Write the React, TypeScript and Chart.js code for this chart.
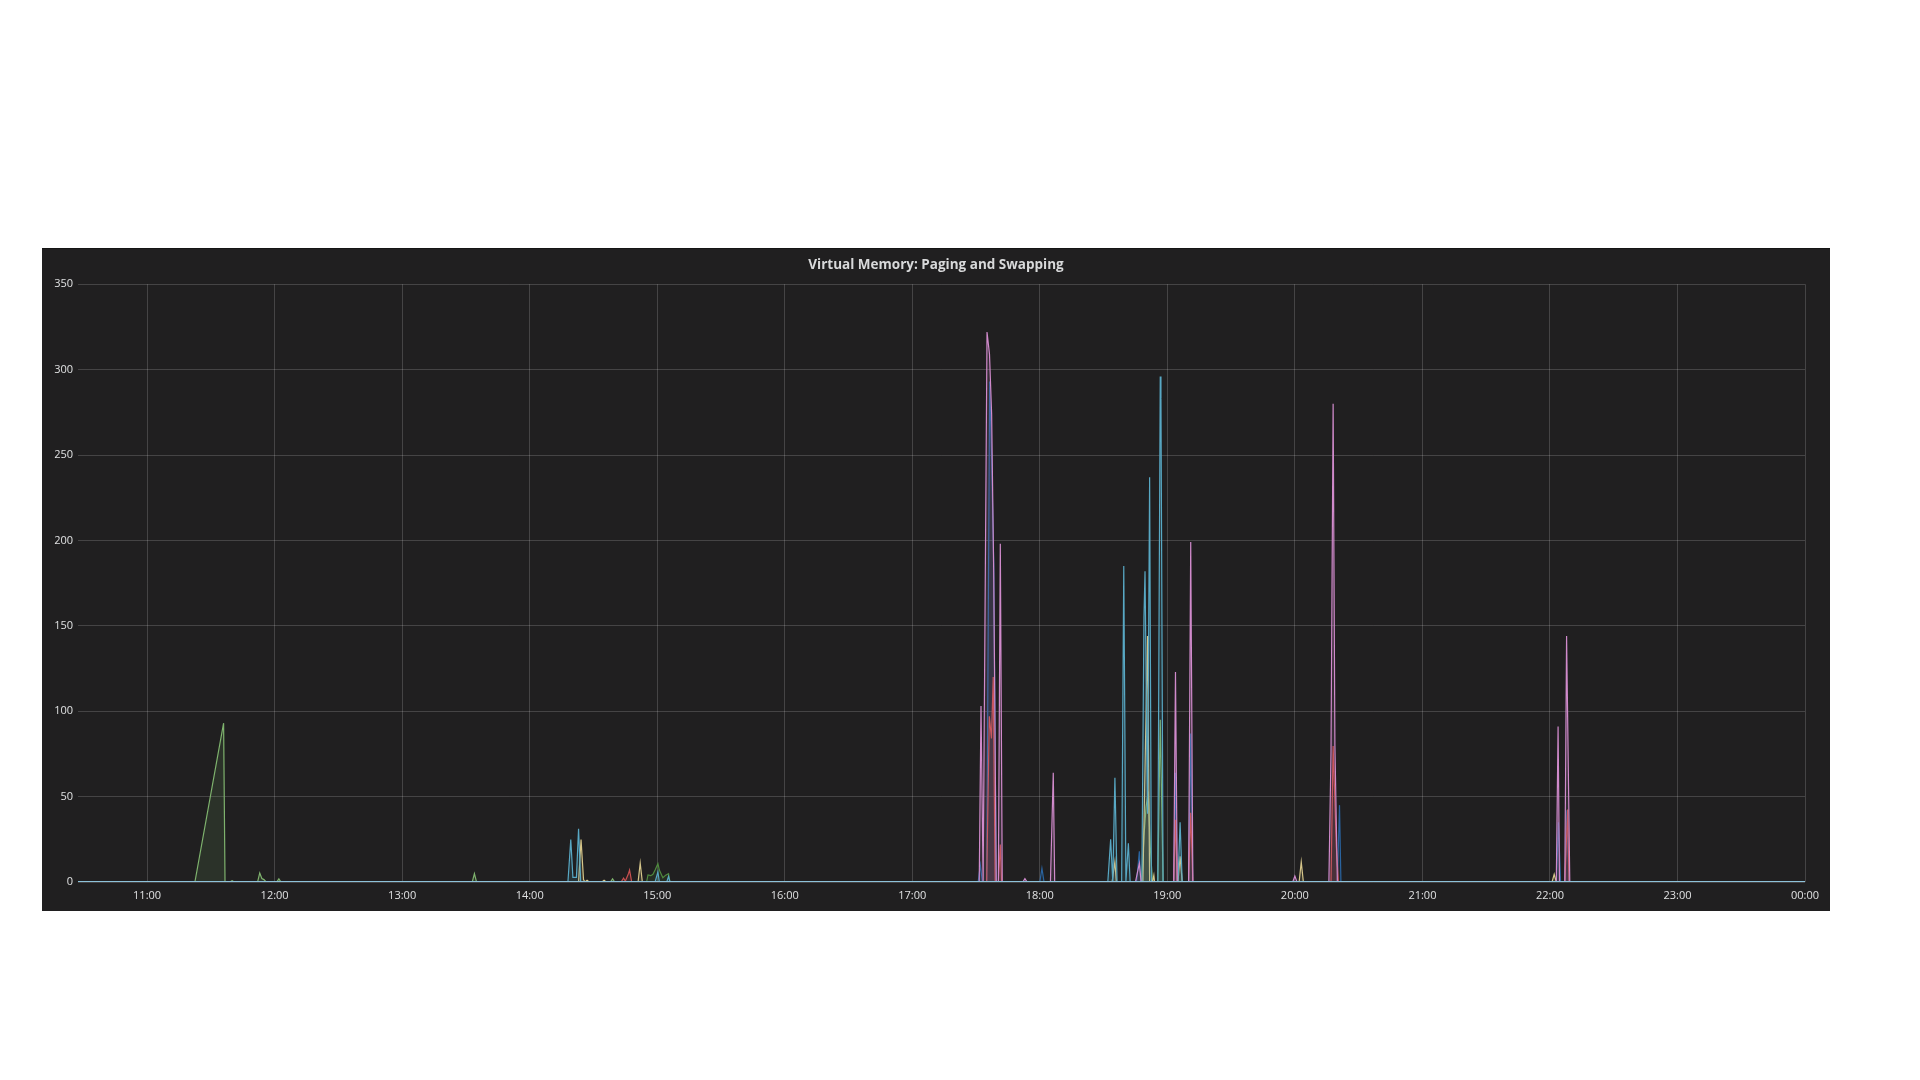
import React, { useEffect, useRef } from "react";
import { Chart, registerables } from "chart.js";

Chart.register(...registerables);

// ---- data (time "HH:MM[:SS]", value) ----
const TITLE = "Virtual Memory: Paging and Swapping";
const X_START = "10:27:30";
const X_END = "24:00";
const xTickLabels = ["11:00", "12:00", "13:00", "14:00", "15:00", "16:00", "17:00", "18:00", "19:00", "20:00", "21:00", "22:00", "23:00", "00:00"];
const yTickValues = [0, 50, 100, 150, 200, 250, 300, 350];

const swapBaseline: [string, number][] = [[X_START, 0], [X_END, 0]];

const pinkSeries: [string, number][] = [
  [X_START, 0], ["17:31:30", 0], ["17:32:20", 103], ["17:33:20", 0], ["17:35:10", 322], ["17:36:20", 309],
  ["17:37:20", 274], ["17:38:20", 179], ["17:39:30", 0], ["17:40:30", 0], ["17:41:25", 198], ["17:42:20", 0],
  ["17:52", 0], ["17:53", 2], ["17:54", 0], ["18:05", 0], ["18:06:20", 64], ["18:07", 0],
  ["18:45", 0], ["18:46:50", 11], ["18:47:40", 0], ["19:03", 0], ["19:03:50", 123], ["19:04:40", 0],
  ["19:10", 0], ["19:11", 199], ["19:12", 0], ["19:59", 0], ["20:00", 3.5], ["20:01", 0],
  ["20:16", 0], ["20:17", 76], ["20:18", 280], ["20:18:50", 80], ["20:20", 0],
  ["22:03", 0], ["22:03:50", 91], ["22:04:30", 0], ["22:07", 0], ["22:07:50", 144], ["22:09:20", 0], [X_END, 0],
];

const tealSeries: [string, number][] = [
  [X_START, 0], ["14:18", 0], ["14:19:20", 24.8], ["14:20:20", 2.7], ["14:22", 2.7], ["14:23", 31.2], ["14:24", 0],
  ["14:59", 0], ["15:00:20", 5.9], ["15:01", 0], ["15:04:30", 0], ["15:05:20", 3.3], ["15:06", 0],
  ["18:32", 0], ["18:33:20", 25], ["18:34:20", 0], ["18:35:20", 61], ["18:36:20", 0],
  ["18:38:30", 0], ["18:39:30", 185], ["18:40:30", 0], ["18:41:40", 22.7], ["18:42:30", 0],
  ["18:48", 0], ["18:49", 155], ["18:49:30", 182], ["18:50:40", 40], ["18:51:40", 237], ["18:52:30", 0],
  ["18:55:30", 0], ["18:56:40", 296], ["18:57", 283], ["18:58", 0],
  ["19:05", 0], ["19:06", 35], ["19:07", 0], [X_END, 0],
];

const yellowSeries: [string, number][] = [
  [X_START, 0], ["14:23", 0], ["14:24:10", 24.8], ["14:25:20", 1.4], ["14:26", 0], ["14:27", 1], ["14:28", 0],
  ["14:34", 0], ["14:35", 1], ["14:36", 0], ["14:51", 0], ["14:52", 11.1], ["14:53", 0],
  ["18:34", 0], ["18:35:20", 12], ["18:36", 0], ["18:48:30", 0], ["18:50:40", 144], ["18:51:40", 0],
  ["18:53", 0], ["18:53:40", 4], ["18:54", 0], ["19:05", 0], ["19:06", 15], ["19:07", 0],
  ["20:02", 0], ["20:03", 11.7], ["20:04", 0], ["22:01", 0], ["22:02", 4.5], ["22:03", 0], [X_END, 0],
];

const greenSeries: [string, number][] = [
  [X_START, 0], ["11:22:30", 0], ["11:36", 93], ["11:36:40", 0], ["11:39", 0], ["11:40", 0.8], ["11:41", 0],
  ["11:52", 0], ["11:53", 5.3], ["11:54", 2], ["11:55", 1.4], ["11:56", 0], ["12:01", 0], ["12:02", 1.8], ["12:03", 0],
  ["13:33", 0], ["13:34", 4.9], ["13:35", 0], ["14:38", 0], ["14:39", 1.8], ["14:40", 0],
  ["18:48", 0], ["18:49", 27], ["18:50", 44], ["18:51", 53], ["18:52", 20], ["18:53", 0],
  ["18:55:30", 0], ["18:56:40", 95], ["18:58", 0], [X_END, 0],
];

const darkGreenSeries: [string, number][] = [
  [X_START, 0], ["14:55", 0], ["14:55:40", 4.1], ["14:57", 3.7], ["14:58", 4.5], ["14:59", 7], ["15:00:20", 10.7],
  ["15:01", 7], ["15:02:40", 2.5], ["15:04", 4], ["15:05:20", 4.9], ["15:06", 0], [X_END, 0],
];

const redSeries: [string, number][] = [
  [X_START, 0], ["14:43", 0], ["14:44:10", 2.3], ["14:45", 0.5], ["14:46:30", 5], ["14:47", 7], ["14:48", 0],
  ["17:35", 0], ["17:36:15", 97], ["17:37:15", 84], ["17:38:05", 120], ["17:39", 0], ["17:40:30", 0], ["17:41:25", 22], ["17:42", 0],
  ["19:03", 0], ["19:03:50", 36.5], ["19:04:40", 0], ["19:10", 0], ["19:11", 40.5], ["19:12", 0],
  ["20:17", 0], ["20:18", 79.6], ["20:19:30", 21], ["20:20:30", 0], ["22:07", 0], ["22:08:20", 42.5], ["22:09", 0], [X_END, 0],
];

const blueSeries: [string, number][] = [
  [X_START, 0], ["17:31", 0], ["17:32", 10], ["17:33", 0], ["17:35", 0], ["17:36:25", 293], ["17:37:20", 248],
  ["17:38:20", 186], ["17:39:30", 0], ["18:00", 0], ["18:01", 8], ["18:02", 0],
  ["18:45:30", 0], ["18:46:50", 18], ["18:47:30", 0], ["19:03", 0], ["19:03:50", 64], ["19:04:40", 0],
  ["19:10", 0], ["19:11", 87], ["19:12", 0], ["20:20", 0], ["20:21", 45], ["20:21:40", 0],
  ["22:03", 0], ["22:04", 35], ["22:05", 0], ["22:07", 0], ["22:08", 42], ["22:09", 0], [X_END, 0],
];

const seriesNames = ["swap", "pgmajfault", "pswpin", "pgpgout", "pgpgin", "pgfault", "pswpout", "pgsteal"];
const seriesColors = ["#8DC2DA", "#D08ACB", "#58A8C4", "#D6C68A", "#7EB26D", "#4F8A3E", "#C85050", "#2A64A0"];
const seriesData = [swapBaseline, pinkSeries, tealSeries, yellowSeries, greenSeries, darkGreenSeries, redSeries, blueSeries];

function toMin(s: string): number {
  const p = s.split(":").map(Number);
  return p[0] * 60 + p[1] + (p[2] || 0) / 60;
}

function hexA(hex: string, a: number): string {
  const n = parseInt(hex.slice(1), 16);
  return `rgba(${(n >> 16) & 255},${(n >> 8) & 255},${n & 255},${a})`;
}

const xTickValues: number[] = (() => {
  const out: number[] = [];
  let prev = -1;
  for (const l of xTickLabels) {
    let v = toMin(l);
    while (v <= prev) v += 1440;
    out.push(v);
    prev = v;
  }
  return out;
})();

const PANEL = { left: 42, top: 248, width: 1788, height: 663 };

export default function App() {
  const ref = useRef<HTMLCanvasElement | null>(null);

  useEffect(() => {
    if (!ref.current) return;
    const datasets = seriesData.map((s, i) => ({
      label: seriesNames[i],
      data: s.map(([t, v]) => ({ x: toMin(t), y: v })),
      borderColor: seriesColors[i],
      backgroundColor: hexA(seriesColors[i], i === 0 ? 0 : 0.13),
      borderWidth: i === 0 ? 2 : 1.2,
      fill: i === 0 ? false : "origin",
      pointRadius: 0,
      tension: 0,
      yAxisID: "y",
    }));
    const chart = new Chart(ref.current, {
      type: "line",
      data: { datasets },
      options: {
        animation: false,
        responsive: false,
        devicePixelRatio: 1,
        layout: { padding: { left: 12.5, right: 12.5, top: 0, bottom: 0 } },
        plugins: {
          legend: { display: false },
          tooltip: { enabled: false },
          title: {
            display: true,
            text: TITLE,
            color: "#d8d9da",
            font: { family: "'Open Sans'", size: 13.5, weight: "bold" },
            padding: { top: 8, bottom: 11 },
          },
        },
        scales: {
          x: {
            type: "linear",
            min: toMin(X_START),
            max: toMin(X_END),
            border: { display: false },
            grid: { color: "rgba(255,255,255,0.17)", drawTicks: false, lineWidth: 1 },
            ticks: {
              color: "#e0e1e2",
              font: { family: "'Open Sans'", size: 11 },
              padding: 7,
              maxRotation: 0,
              autoSkip: false,
              callback: (v: any) => {
                const idx = xTickValues.indexOf(Number(v));
                return idx >= 0 ? xTickLabels[idx] : "";
              },
            },
            afterBuildTicks: (axis: any) => {
              axis.ticks = xTickValues.map((v) => ({ value: v }));
            },
            afterFit: (axis: any) => {
              axis.height = 29;
            },
          },
          y: {
            min: 0,
            max: 350,
            border: { display: false },
            grid: { color: "rgba(255,255,255,0.17)", drawTicks: false, lineWidth: 1 },
            ticks: {
              color: "#e0e1e2",
              font: { family: "'Open Sans'", size: 11 },
              padding: 5,
            },
            afterBuildTicks: (axis: any) => {
              axis.ticks = yTickValues.map((v) => ({ value: v }));
            },
            afterFit: (axis: any) => {
              axis.width = 23.5;
            },
          },
          yRightSpacer: {
            position: "right",
            min: 0,
            max: 1,
            border: { display: false },
            grid: { display: false, drawTicks: false },
            ticks: { display: false },
            afterFit: (axis: any) => {
              axis.width = 12.5;
            },
          },
        },
      },
    });
    return () => chart.destroy();
  }, []);

  return (
    <div
      style={{
        position: "absolute",
        left: PANEL.left,
        top: PANEL.top,
        width: PANEL.width,
        height: PANEL.height,
        background: "#201f20",
        borderTop: "1px solid #151515",
        boxSizing: "border-box",
      }}
    >
      <canvas
        ref={ref}
        width={PANEL.width}
        height={PANEL.height - 1}
        style={{ display: "block", width: PANEL.width, height: PANEL.height - 1 }}
      />
    </div>
  );
}
